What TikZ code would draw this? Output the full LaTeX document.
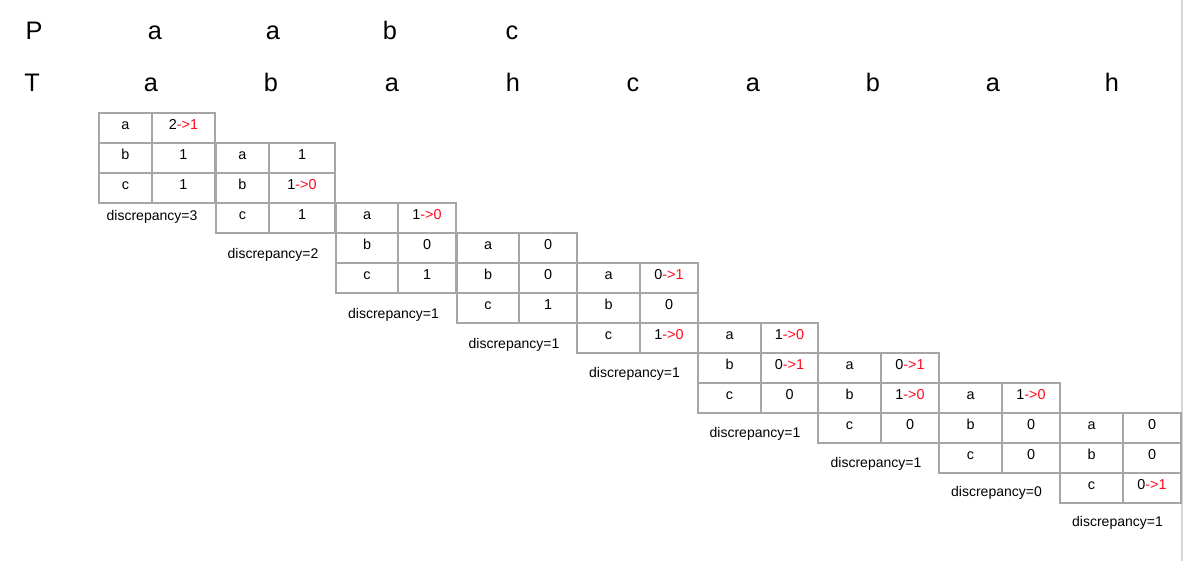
\documentclass[tikz,border=0pt]{standalone}
\usepackage{fontspec}
\setmainfont{Liberation Sans}
\definecolor{gridc}{HTML}{A6A6A6}
\definecolor{edgec}{HTML}{D6D6D6}
\definecolor{redc}{HTML}{FF0A1E}
\newcommand\rd[1]{\textcolor{redc}{#1}}
\tikzset{
  grid/.style={draw=gridc, line width=1.1pt},
  hdr/.style={anchor=base, inner sep=0pt, font=\fontsize{19}{22}\selectfont},
  cellt/.style={anchor=base, inner sep=0pt, font=\fontsize{10.8}{13}\selectfont},
  disc/.style={anchor=base, inner sep=0pt, font=\fontsize{10.5}{12}\selectfont},
}
% #1 name, #2 left, #3 split, #4 right, #5 top, #6 a-value, #7 b-value, #8 c-value
\newcommand\tbl[8]{%
  \draw[grid] (#2,#5) rectangle (#4,{#5+90});
  \draw[grid] (#2,{#5+30}) -- (#4,{#5+30});
  \draw[grid] (#2,{#5+60}) -- (#4,{#5+60});
  \draw[grid] (#3,#5) -- (#3,{#5+90});
  \node[cellt] (#1ka) at ({(#2+#3)/2},{#5+16}) {a};
  \node[cellt] (#1kb) at ({(#2+#3)/2},{#5+46}) {b};
  \node[cellt] (#1kc) at ({(#2+#3)/2},{#5+76}) {c};
  \node[cellt] (#1va) at ({(#3+#4)/2},{#5+16}) {#6};
  \node[cellt] (#1vb) at ({(#3+#4)/2},{#5+46}) {#7};
  \node[cellt] (#1vc) at ({(#3+#4)/2},{#5+76}) {#8};
}
\begin{document}
\begin{tikzpicture}[x=0.75pt,y=-0.75pt]
\useasboundingbox (0,0) rectangle (1184,561);
\fill[white] (0,0) rectangle (1184,561);
\draw[edgec, line width=1.5pt] (1182,0) -- (1182,561);
% header rows
\node[hdr] (P)  at (34,39) {P};
\node[hdr] (p1) at (155,39) {a};
\node[hdr] (p2) at (273,39) {a};
\node[hdr] (p3) at (390,39) {b};
\node[hdr] (p4) at (512,39) {c};
\node[hdr] (T)  at (32,91) {T};
\node[hdr] (t1) at (151,91) {a};
\node[hdr] (t2) at (271,91) {b};
\node[hdr] (t3) at (392,91) {a};
\node[hdr] (t4) at (513,91) {h};
\node[hdr] (t5) at (633,91) {c};
\node[hdr] (t6) at (753,91) {a};
\node[hdr] (t7) at (873,91) {b};
\node[hdr] (t8) at (993,91) {a};
\node[hdr] (t9) at (1112,91) {h};
% tables
\tbl{A}{99}{152}{215}{113}{2\rd{->1}}{1}{1}
\tbl{B}{216}{269}{335}{143}{1}{1\rd{->0}}{1}
\tbl{C}{336}{398}{456}{203}{1\rd{->0}}{0}{1}
\tbl{D}{457}{519}{577}{233}{0}{0}{1}
\tbl{E}{577}{640}{698}{263}{0\rd{->1}}{0}{1\rd{->0}}
\tbl{F}{698}{761}{818}{323}{1\rd{->0}}{0\rd{->1}}{0}
\tbl{G}{818}{881}{939}{353}{0\rd{->1}}{1\rd{->0}}{0}
\tbl{H}{939}{1002}{1060}{383}{1\rd{->0}}{0}{0}
\tbl{I}{1060}{1123}{1181}{413}{0}{0}{0\rd{->1}}
% discrepancy labels
\node[disc] (dA) at (152,220) {discrepancy=3};
\node[disc] (dB) at (273,258) {discrepancy=2};
\node[disc] (dC) at (393.5,318) {discrepancy=1};
\node[disc] (dD) at (514,348) {discrepancy=1};
\node[disc] (dE) at (634.5,377) {discrepancy=1};
\node[disc] (dF) at (755,437) {discrepancy=1};
\node[disc] (dG) at (876,467) {discrepancy=1};
\node[disc] (dH) at (996.5,496) {discrepancy=0};
\node[disc] (dI) at (1117.5,526) {discrepancy=1};
\end{tikzpicture}
\end{document}
